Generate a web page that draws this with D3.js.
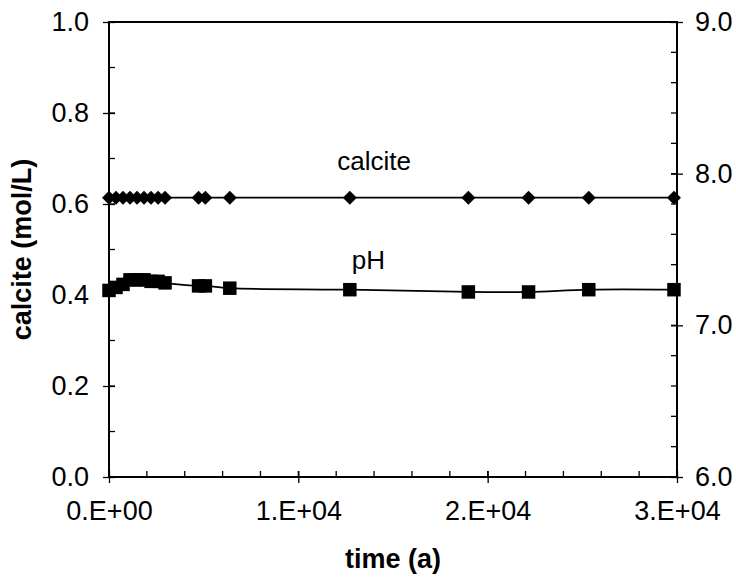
<!DOCTYPE html>
<html><head><meta charset="utf-8">
<script src="https://cdn.jsdelivr.net/npm/d3@7"></script>
<style>
html,body{margin:0;padding:0;background:#fff;}
svg text{font-family:"Liberation Sans",Arial,sans-serif;fill:#000;}
</style></head>
<body>
<svg id="chart" width="736" height="582"></svg>
<script>
// ---- data ----
const times = [0, 370, 740, 1110, 1480, 1850, 2220, 2590, 2960, 4730, 5090, 6380, 12720, 18980, 22160, 25340, 29840];
const calcite = [0.614, 0.614, 0.614, 0.614, 0.614, 0.614, 0.614, 0.614, 0.614, 0.614, 0.614, 0.614, 0.614, 0.614, 0.614, 0.614, 0.614];
const pH = [7.23, 7.25, 7.27, 7.30, 7.30, 7.30, 7.29, 7.29, 7.28, 7.26, 7.26, 7.245, 7.235, 7.22, 7.22, 7.235, 7.235];
const xTicks = [0, 10000, 20000, 30000];
const xTickLabels = ["0.E+00", "1.E+04", "2.E+04", "3.E+04"];
const yTicks = [0, 0.2, 0.4, 0.6, 0.8, 1.0];
const y2Ticks = [6, 7, 8, 9];
const seriesLabels = {calcite: "calcite", pH: "pH"};

// ---- layout ----
const W = 736, H = 582;
const m = {left: 109, top: 22, right: 59, bottom: 105};
const pw = W - m.left - m.right, ph = H - m.top - m.bottom;
const svg = d3.select("#chart");
const g = svg.append("g").attr("transform", `translate(${m.left},${m.top})`);

const x = d3.scaleLinear().domain([0, 30000]).range([0, pw]);
const y = d3.scaleLinear().domain([0, 1]).range([ph, 0]);
const y2 = d3.scaleLinear().domain([6, 9]).range([ph, 0]);

const FS = 27;
const tickLen = 6;

// frame
g.append("rect").attr("x", 0).attr("y", 0).attr("width", pw).attr("height", ph)
  .attr("fill", "none").attr("stroke", "#000").attr("stroke-width", 2);

// minor ticks (inside)
d3.range(0, 30001, 2000).forEach(v => {
  g.append("line").attr("x1", x(v)).attr("x2", x(v)).attr("y1", ph).attr("y2", ph - tickLen)
   .attr("stroke", "#000").attr("stroke-width", 1.3);
});
d3.range(0, 1.0001, 0.1).forEach(v => {
  g.append("line").attr("x1", 0).attr("x2", tickLen).attr("y1", y(v)).attr("y2", y(v))
   .attr("stroke", "#000").attr("stroke-width", 1.3);
});
d3.range(6, 9.0001, 0.2).forEach(v => {
  g.append("line").attr("x1", pw).attr("x2", pw - tickLen).attr("y1", y2(v)).attr("y2", y2(v))
   .attr("stroke", "#000").attr("stroke-width", 1.3);
});

// major axes via d3 axes
const xAxis = d3.axisBottom(x).tickValues(xTicks).tickSize(tickLen).tickFormat((d, i) => xTickLabels[i]);
const yAxis = d3.axisLeft(y).tickValues(yTicks).tickSize(tickLen).tickFormat(d3.format(".1f"));
const y2Axis = d3.axisRight(y2).tickValues(y2Ticks).tickSize(tickLen).tickFormat(d3.format(".1f"));

function styleAxis(sel) {
  sel.select(".domain").remove();
  sel.selectAll(".tick line").attr("stroke", "#000").attr("stroke-width", 1.3);
  sel.selectAll(".tick text").attr("font-size", FS).attr("font-family", "Liberation Sans, Arial, sans-serif").attr("fill", "#000");
}
const gx = g.append("g").attr("transform", `translate(0,${ph})`).call(xAxis).call(styleAxis);
gx.selectAll(".tick line").attr("y1", -tickLen);
gx.selectAll(".tick text").attr("dy", "0.71em").attr("y", 24);
const gy = g.append("g").call(yAxis).call(styleAxis);
gy.selectAll(".tick line").attr("x1", tickLen);
gy.selectAll(".tick text").attr("x", -20);
const gy2 = g.append("g").attr("transform", `translate(${pw},0)`).call(y2Axis).call(styleAxis);
gy2.selectAll(".tick line").attr("x1", -tickLen);
gy2.selectAll(".tick text").attr("x", 18);

// lines
const calcLine = d3.line().x((d, i) => x(times[i])).y(d => y(d));
g.append("path").datum(calcite).attr("d", calcLine).attr("fill", "none").attr("stroke", "#000").attr("stroke-width", 1.8);
const pHLine = d3.line().x((d, i) => x(times[i])).y(d => y2(d)).curve(d3.curveCatmullRom.alpha(0.5));
g.append("path").datum(pH).attr("d", pHLine).attr("fill", "none").attr("stroke", "#000").attr("stroke-width", 1.8);

// markers
const dia = 7;
g.selectAll(".dia").data(calcite).enter().append("path")
  .attr("d", (d, i) => {
    const cx = x(times[i]), cy = y(d);
    return `M${cx},${cy - dia}L${cx + dia},${cy}L${cx},${cy + dia}L${cx - dia},${cy}Z`;
  }).attr("fill", "#000");
const sq = 13.5;
g.selectAll(".sq").data(pH).enter().append("rect")
  .attr("x", (d, i) => x(times[i]) - sq / 2).attr("y", d => y2(d) - sq / 2)
  .attr("width", sq).attr("height", sq).attr("fill", "#000");

// series labels
g.append("text").attr("x", x(14000)).attr("y", y(0.615) - 27).attr("text-anchor", "middle")
  .attr("font-size", 26).text(seriesLabels.calcite);
g.append("text").attr("x", x(13700)).attr("y", y2(7.235) - 21).attr("text-anchor", "middle")
  .attr("font-size", 26).text(seriesLabels.pH);

// axis titles
svg.append("text").attr("x", m.left + pw / 2).attr("y", 568).attr("text-anchor", "middle")
  .attr("font-size", 27).attr("font-weight", "bold").text("time (a)");
svg.append("text").attr("transform", `translate(31,${m.top + ph / 2}) rotate(-90)`).attr("text-anchor", "middle")
  .attr("font-size", 27).attr("font-weight", "bold").text("calcite (mol/L)");
</script>
</body></html>
